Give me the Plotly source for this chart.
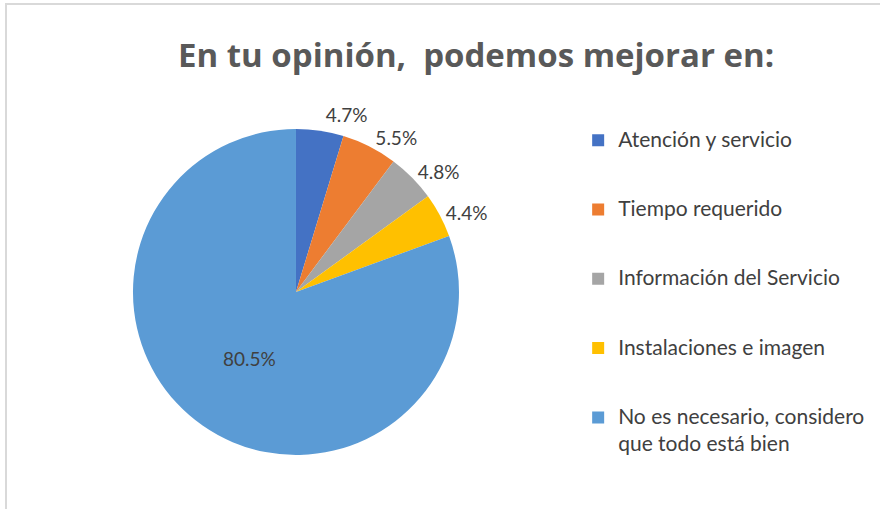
import plotly.graph_objects as go

categories = ["Atención y servicio", "Tiempo requerido", "Información del Servicio",
              "Instalaciones e imagen", "No es necesario, considero<br>que todo está bien"]
values = [4.7, 5.5, 4.8, 4.4, 80.5]
colors = ["#4472C4", "#ED7D31", "#A5A5A5", "#FFC000", "#5B9BD5"]
text_pos = ["outside", "outside", "outside", "outside", "inside"]

def legend_label(c):
    body = "<br>".join("<span style='font-size:21px'>%s</span>" % part for part in c.split("<br>"))
    return body + ("<br> <br> " if "<br>" not in c else "")

legend_labels = [legend_label(c) for c in categories]

fig = go.Figure(go.Pie(
    labels=legend_labels,
    values=values,
    sort=False,
    direction="clockwise",
    rotation=0,
    marker=dict(colors=colors, line=dict(width=0)),
    texttemplate="%{value:.1f}%",
    textposition=text_pos,
    textfont=dict(family="Lato, Carlito, sans-serif", size=19, color="#404040"),
    insidetextorientation="horizontal",
    domain=dict(x=[0.1511, 0.5216], y=[0.1061, 0.7466]),
    hoverinfo="value",
))

fig.update_layout(
    width=880, height=509,
    margin=dict(l=0, r=0, t=0, b=0),
    paper_bgcolor="white",
    title=dict(text="En tu opinión,&nbsp; podemos mejorar en:", x=0.541, xanchor="center",
               y=0.892, yanchor="middle",
               font=dict(family="Open Sans, sans-serif", size=33, color="#595959", weight="bold")),
    legend=dict(x=0.657, y=0.759, xanchor="left", yanchor="top", valign="top",
                font=dict(family="Lato, Carlito, sans-serif", size=17, color="#404040"),
                itemwidth=30, traceorder="normal"),
    shapes=[dict(type="rect", xref="paper", yref="paper", x0=6/880, x1=1.01, y0=-0.01, y1=1-4/509,
                 line=dict(color="#D9D9D9", width=2), fillcolor="rgba(0,0,0,0)")],
)

post = (
    "document.body.style.margin='0';"
    "document.querySelectorAll('path.textline').forEach(function(e){e.style.display='none';});"
    "document.querySelectorAll('text.legendtext').forEach(function(t){"
    "  var ls=t.querySelectorAll('tspan.line');"
    "  if(t.textContent.indexOf('considero')>=0 && ls.length>1){ls[ls.length-1].style.fontSize='20.5px';}"
    "});"
)

fig.write_html("out.html", config={"displayModeBar": False}, post_script=post)
